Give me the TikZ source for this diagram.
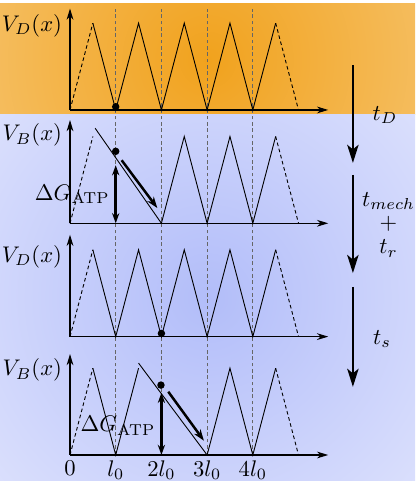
\documentclass[tikz,border=0pt]{standalone}
\usetikzlibrary{arrows.meta}
\definecolor{orangemid}{RGB}{241,162,29}
\definecolor{orangeedge}{RGB}{249,218,165}
\definecolor{bluemid}{RGB}{178,189,249}
\definecolor{blueedge}{RGB}{244,245,255}
\tikzset{
  tri/.style={line width=0.4pt},
  tridash/.style={line width=0.4pt, dash pattern=on 1.6pt off 1.2pt},
  guide/.style={gray!80!black, line width=0.3pt, dash pattern=on 1.6pt off 1.2pt},
  axis/.style={line width=0.5pt, -{Stealth[length=5pt,width=3pt]}},
  pushed/.style={line width=1.1pt, -{Stealth[length=5pt,width=3.5pt]}},
  gap/.style={line width=1.1pt, {Stealth[length=4.5pt,width=3.2pt]}-{Stealth[length=4.5pt,width=3.2pt]}},
  timeflow/.style={line width=1.1pt, -{Stealth[length=8pt,width=5pt,inset=2pt]}},
  bead/.style={circle, fill, inner sep=0pt, minimum size=3.3pt}
}

\begin{document}
\begin{tikzpicture}[scale=0.71]
  \useasboundingbox (-1.532,-0.569) rectangle (7.549,9.956);
  \fill[white] (-1.532,-0.569) rectangle (7.549,9.956);

  \begin{scope}
    \clip (-1.532,7.44) rectangle (7.549,9.87);
    \shade[inner color=orangemid, outer color=orangeedge] (-6.99,-1.35) rectangle (13.01,18.65);
  \end{scope}
  \begin{scope}
    \clip (-1.532,-0.569) rectangle (7.549,7.44);
    \shade[inner color=bluemid, outer color=blueedge] (-6.99,-6.56) rectangle (13.01,13.44);
  \end{scope}

  \draw[guide] (1,0) -- (1,9.76);
  \draw[guide] (2,0) -- (2,9.76);
  \draw[guide] (3,0) -- (3,9.76);
  \draw[guide] (4,0) -- (4,9.76);

  \draw[axis, shift={(0,7.55)}] (0,0) -- (5.65,0);
  \draw[axis, shift={(0,7.55)}] (0,0) -- (0,2.22);
  \draw[tridash, shift={(0,7.55)}] (0,0) -- (0.5,1.9);
  \draw[tri, shift={(0,7.55)}] (0.5,1.9) -- (1,0) -- (1.5,1.9) -- (2,0) -- (2.5,1.9) -- (3,0) -- (3.5,1.9) -- (4,0) -- (4.5,1.9);
  \draw[tridash, shift={(0,7.55)}] (4.5,1.9) -- (5,0);
  \node[anchor=east] (vd1) at (0,9.39) {$V_D(x)$};
  \node[bead] (b1) at (1,7.62) {};

  \draw[axis, shift={(0,5.07)}] (0,0) -- (5.65,0);
  \draw[axis, shift={(0,5.07)}] (0,0) -- (0,2.26);
  \draw[tridash, shift={(0,5.07)}] (0,0) -- (0.5,1.9);
  \draw[tri, shift={(0,5.07)}] (0.55,2.08) -- (2,0);
  \draw[tri, shift={(0,5.07)}] (2,0) -- (2.5,1.9) -- (3,0) -- (3.5,1.9) -- (4,0) -- (4.5,1.9);
  \draw[tridash, shift={(0,5.07)}] (4.5,1.9) -- (5,0);
  \draw[gap, shift={(0,5.07)}] (1,0) -- (1,1.27);
  \draw[pushed, shift={(0,5.07)}] (1.13,1.38) -- (1.91,0.335);
  \node[anchor=east] (vb2) at (0,7.0) {$V_B(x)$};
  \node[left, inner sep=2.5pt] (dg2) at (1,5.71) {$\Delta G_{\mathrm{ATP}}$};
  \node[bead] (b2) at (1,6.645) {};

  \draw[axis, shift={(0,2.59)}] (0,0) -- (5.65,0);
  \draw[axis, shift={(0,2.59)}] (0,0) -- (0,2.23);
  \draw[tridash, shift={(0,2.59)}] (0,0) -- (0.5,1.9);
  \draw[tri, shift={(0,2.59)}] (0.5,1.9) -- (1,0) -- (1.5,1.9) -- (2,0) -- (2.5,1.9) -- (3,0) -- (3.5,1.9) -- (4,0) -- (4.5,1.9);
  \draw[tridash, shift={(0,2.59)}] (4.5,1.9) -- (5,0);
  \node[anchor=east] (vd3) at (0,4.34) {$V_D(x)$};
  \node[bead] (b3) at (2,2.66) {};

  \draw[axis] (0,0) -- (5.65,0);
  \draw[axis] (0,0) -- (0,2.21);
  \draw[tridash] (0,0) -- (0.5,1.9);
  \draw[tri] (0.5,1.9) -- (1,0) -- (1.5,1.9);
  \draw[tri] (1.5,2.01) -- (3,0);
  \draw[tri] (3,0) -- (3.5,1.9) -- (4,0) -- (4.5,1.9);
  \draw[tridash] (4.5,1.9) -- (5,0);
  \draw[gap] (2,0) -- (2,1.36);
  \draw[pushed] (2.15,1.385) -- (2.93,0.313);
  \node[anchor=east] (vb4) at (0,1.86) {$V_B(x)$};
  \node[left, inner sep=2.5pt] (dg4) at (2,0.64) {$\Delta G_{\mathrm{ATP}}$};
  \node[bead] (b4) at (1.99,1.53) {};

  \node[below, inner sep=2.2pt] (x0) at (0,0) {$0$};
  \node[below, inner sep=2.2pt] (x1) at (1,0) {$l_0$};
  \node[below, inner sep=2.2pt] (x2) at (2,0) {$2l_0$};
  \node[below, inner sep=2.2pt] (x3) at (3,0) {$3l_0$};
  \node[below, inner sep=2.2pt] (x4) at (4,0) {$4l_0$};

  \draw[timeflow] (6.19,8.53) -- (6.19,6.39);
  \draw[timeflow] (6.19,6.13) -- (6.19,3.98);
  \draw[timeflow] (6.19,3.68) -- (6.19,1.49);
  \node (td) at (6.89,7.44) {$t_D$};
  \node[align=center] (tmr) at (6.97,5.04) {$t_{mech}$\\[-1.5pt]$+$\\[-1.5pt]$t_r$};
  \node (ts) at (6.83,2.54) {$t_s$};
\end{tikzpicture}
\end{document}
